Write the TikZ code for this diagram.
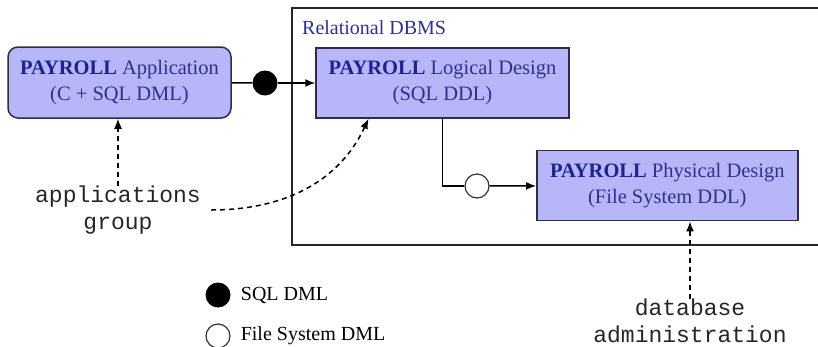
\documentclass[tikz,border=0pt]{standalone}
\usepackage{fontspec}
\setmainfont{Liberation Serif}
\setmonofont{Liberation Mono}
\usetikzlibrary{arrows.meta,positioning}

\definecolor{designfill}{RGB}{182,182,248}
\definecolor{designtext}{RGB}{48,48,140}
\definecolor{payrollblue}{RGB}{28,36,140}
\definecolor{designline}{RGB}{45,45,70}

\newcommand{\payroll}{\textcolor{payrollblue}{\textbf{PAYROLL}}}

\begin{document}
\begin{tikzpicture}[x=1pt,y=-1pt,
  design/.style={draw=designline,line width=1.5pt,fill=designfill,text=designtext,
    align=center,inner sep=0pt,font=\fontsize{20.5}{26}\selectfont},
  group/.style={align=center,inner sep=0pt,text=black!85,font=\ttfamily\fontsize{23}{27}\selectfont},
  legtext/.style={inner sep=0pt,font=\fontsize{20}{24}\selectfont},
  dml/.style={circle,inner sep=0pt,minimum size=25pt,fill=black},
  fsdml/.style={circle,inner sep=0pt,minimum size=24pt,draw=black!80,line width=1.2pt,fill=white},
  flow/.style={line width=1.5pt,-{Latex[length=10pt,width=8pt]}},
  task/.style={line width=1.5pt,dash pattern=on 5pt off 4pt,-{Latex[length=10pt,width=8pt]}}]

\useasboundingbox (0,0) rectangle (818,346);

% Relational DBMS frame (runs off the right edge)
\draw[line width=1.5pt,black!85] (830,8) -- (292,8) -- (292,245) -- (830,245);
\node[anchor=base west,inner sep=0pt,text=designtext,font=\fontsize{20}{24}\selectfont]
  (dbms) at (302,34) {Relational DBMS};

% --- Designs ---
\node[design,rounded corners=10pt,minimum width=223pt,minimum height=71pt]
  (app) at (119.5,82.5) {\payroll{} Application\\(C + SQL DML)};
\node[design,minimum width=253pt,minimum height=70pt]
  (logical) at (442.5,83) {\payroll{} Logical Design\\(SQL DDL)};
\node[design,minimum width=261pt,minimum height=70pt]
  (physical) at (667.3,185.7) {\payroll{} Physical Design\\(File System DDL)};

% --- Interfaces ---
\node[dml] (sqlDot) at (265,83) {};
\node[fsdml] (fsDot) at (477,186) {};

\draw[line width=1.5pt] (app) -- (sqlDot);
\draw[flow] (sqlDot) -- (logical);
\draw[line width=1.5pt] (logical.south) |- (fsDot);
\draw[flow] (fsDot) -- (physical);

% --- Groups ---
\node[group] (appgrp) at (118,210) {applications\\group};
\node[group] (dbadm) at (690,321) {database\\administration};

\draw[task] (appgrp.north) -- (appgrp.north |- app.south);
\draw[task] ([xshift=10pt]appgrp.east) to[out=0,in=245] ([xshift=-74pt]logical.south);
\draw[task] (dbadm.north) -- (dbadm.north |- physical.south);

% --- Legend ---
\node[dml] (legSql) at (218,295) {};
\node[fsdml] (legFs) at (218,336) {};
\node[legtext,right=10pt of legSql] (legSqlText) {SQL DML};
\node[legtext,right=10pt of legFs] (legFsText) {File System DML};

\end{tikzpicture}
\end{document}
